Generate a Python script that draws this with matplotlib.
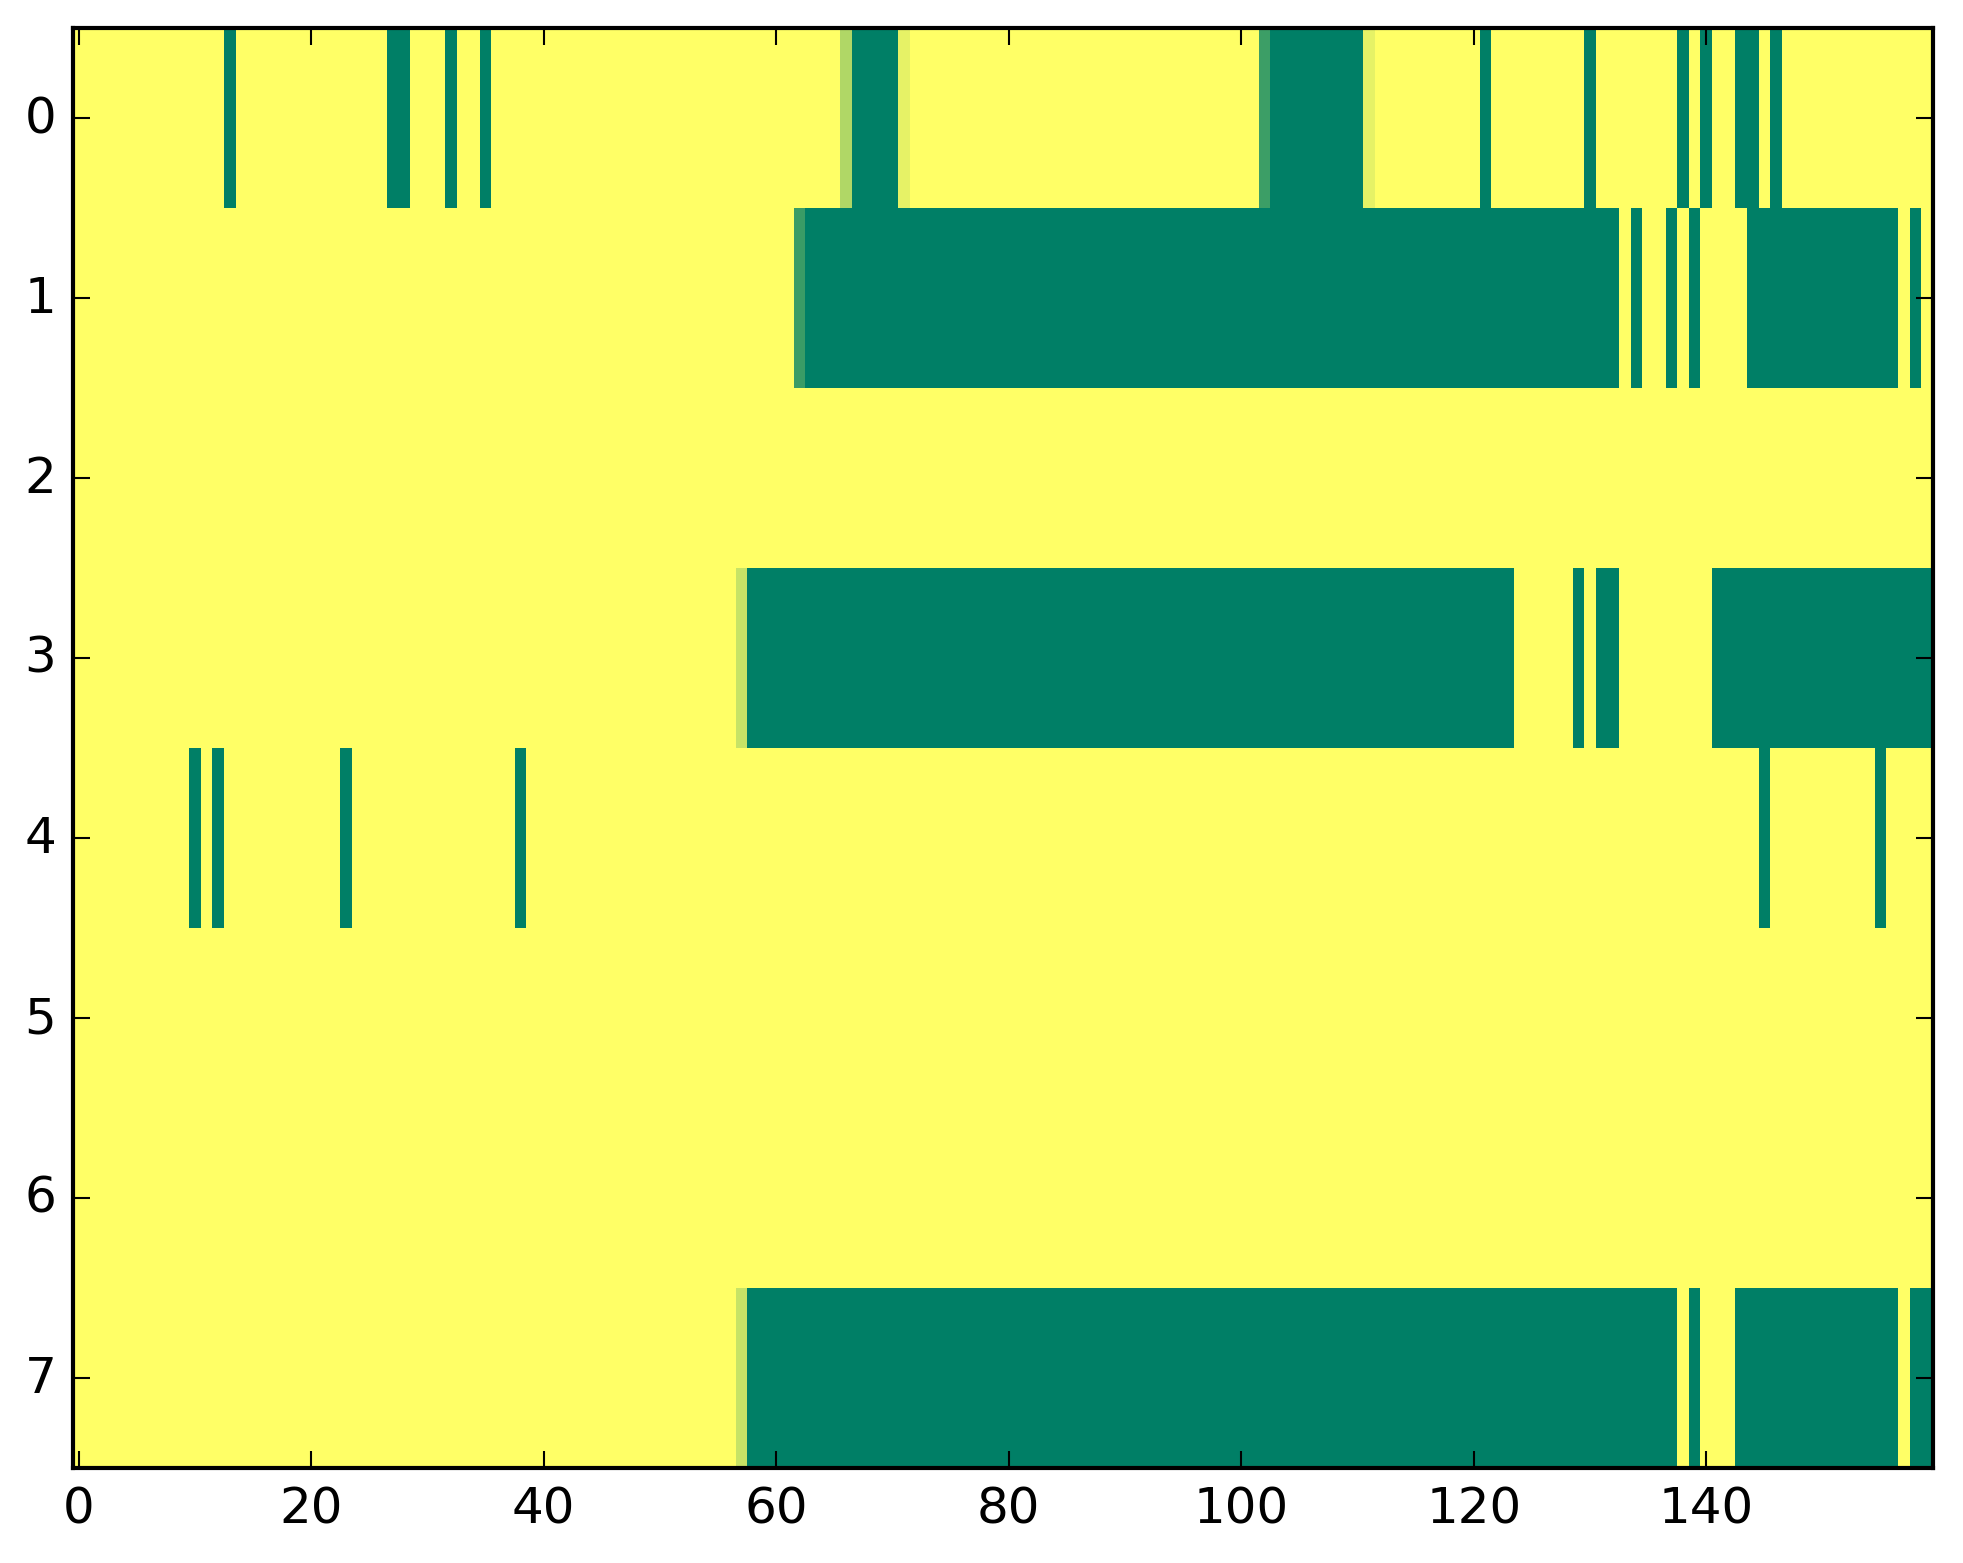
import numpy as np
import matplotlib
matplotlib.use("Agg")
import matplotlib.pyplot as plt

plt.style.use("classic")
plt.rcParams['font.family'] = ['DejaVu Sans']

n_rows = 8
n_cols = 160

# runs of (first column, last column, value); everything else is 1.0 (yellow)
row0 = [(13, 13, 0.0), (27, 28, 0.0), (32, 32, 0.0), (35, 35, 0.0),
        (66, 66, 0.69), (67, 70, 0.0), (71, 71, 0.9),
        (102, 102, 0.24), (103, 110, 0.0), (111, 111, 0.9),
        (121, 121, 0.0), (130, 130, 0.0), (138, 138, 0.0), (140, 140, 0.0),
        (143, 144, 0.0), (146, 146, 0.0)]
row1 = [(62, 62, 0.23), (63, 132, 0.0), (134, 134, 0.0), (137, 137, 0.0),
        (139, 139, 0.0), (144, 156, 0.0), (158, 158, 0.0)]
row2 = []
row3 = [(57, 57, 0.78), (58, 123, 0.0), (129, 129, 0.0), (131, 132, 0.0),
        (141, 159, 0.0)]
row4 = [(10, 10, 0.0), (12, 12, 0.0), (23, 23, 0.0), (38, 38, 0.0),
        (145, 145, 0.0), (155, 155, 0.0)]
row5 = []
row6 = []
row7 = [(57, 57, 0.78), (58, 137, 0.0), (139, 139, 0.0), (143, 156, 0.0),
        (158, 159, 0.0)]

rows = [row0, row1, row2, row3, row4, row5, row6, row7]

data = np.ones((n_rows, n_cols))
for r, runs in enumerate(rows):
    for a, b, v in runs:
        data[r, a:b + 1] = v

W, H, DPI = 1963, 1564, 300
fig = plt.figure(figsize=(W / DPI, H / DPI), dpi=DPI, facecolor="white")
ax = fig.add_axes([73 / W, 95 / H, (1933 - 73) / W, (1469 - 29) / H])
ax.imshow(data, cmap="summer", interpolation="nearest", aspect="auto",
          vmin=0, vmax=1)
ax.set_xticks([0, 20, 40, 60, 80, 100, 120, 140])
ax.set_yticks(range(8))
ax.tick_params(labelsize=12)

fig.savefig("out.png", dpi=DPI, facecolor="white")
